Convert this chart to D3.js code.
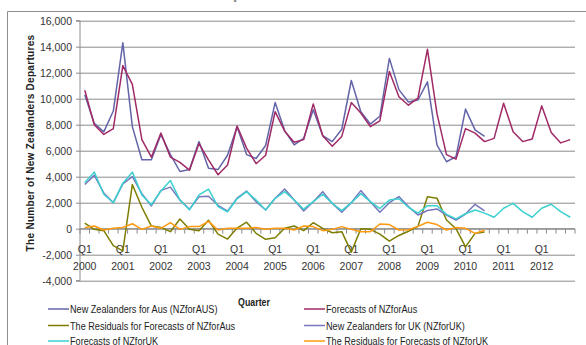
<!DOCTYPE html>
<html>
<head>
<meta charset="utf-8">
<script src="https://cdn.jsdelivr.net/npm/d3@7"></script>
<style>
  body { margin: 0; background: #fff; }
  svg { display: block; }
  text { font-family: "Liberation Sans", Arial, sans-serif; fill: #333; }
</style>
</head>
<body>
<div id="chart"></div>
<script>
const years = ["2000","2001","2002","2003","2004","2005","2006","2007","2008","2009","2010","2011","2012"];
const quarters = ["Q1","Q2","Q3","Q4"];
const yTicks = [-4000,-2000,0,2000,4000,6000,8000,10000,12000,14000,16000];

// quarterly departures, 2000 Q1 onwards (actuals stop at 2010 Q3)
const nzAus = [10300,8100,7450,9050,14300,7850,5300,5300,7250,5700,4400,4550,6700,4650,4550,5650,7850,5700,5400,6400,
  9700,7550,6450,6950,9150,7150,6700,7650,11400,9000,8050,8650,13100,10700,9750,9900,11300,6450,5150,5550,9200,7600,7100];
const fcAus = [10650,8000,7250,7700,12550,11100,6850,5500,7350,5500,5100,4500,6550,5300,4150,4900,7900,6200,5000,5650,
  9000,7500,6650,6850,9600,7150,6350,7100,9700,8900,7850,8300,12100,10150,9500,10050,13800,8850,5700,5350,7700,7350,6700,
  6950,9650,7450,6700,6900,9450,7400,6600,6850];
const resAus = [430,-50,-150,-1300,-1700,3400,1650,200,100,-230,750,-50,-150,650,-420,-800,50,500,-360,-820,
  -700,30,210,-150,460,30,-310,-230,-1800,0,-50,-420,-950,-520,-200,180,2450,2350,670,0,-1400,-360,-250];
const nzUK = [3400,4100,2750,2000,3450,4000,2700,1750,2950,3200,2200,1500,2450,2500,1800,1350,2350,2900,2080,1440,
  2340,3050,2210,1360,2080,2850,1950,1260,2000,2930,2080,1260,2000,2470,1700,1050,1400,1520,1050,670,1130,1880,1370];
const fcUK = [3550,4350,2650,2000,3500,4350,2600,1850,2900,3700,2200,1450,2600,3050,1700,1300,2300,2850,2200,1440,
  2340,2850,2210,1500,2080,2650,1950,1390,2000,2700,2080,1550,2200,2300,1650,1200,1770,1770,1100,760,1150,1440,1200,
  880,1570,1950,1310,880,1570,1880,1310,880];
const resUK = [100,210,-100,30,100,380,-50,210,30,460,-50,160,160,560,-100,30,30,30,100,-50,
  30,30,-100,210,160,-150,-50,160,-50,-230,-230,360,320,-100,-80,180,500,320,-100,100,30,-360,-120];

const seriesNames = ["New Zealanders for Aus (NZforAUS)","Forecasts of NZforAus","The Residuals for Forecasts of NZforAus",
  "New Zealanders for UK (NZforUK)","Forecasts of NZforUK","The Residuals for Forecasts of NZforUK"];
const seriesColors = ["#6464a8","#a02a66","#7d7d00","#7676bc","#3cd0d0","#ff9a10"];

const categories = d3.cross(years, quarters).map(([y, q]) => y + " " + q);
const seriesData = [nzAus, fcAus, resAus, nzUK, fcUK, resUK];

const width = 586, height = 345;
const margin = {top: 21, right: 11, bottom: 65, left: 80};

const svg = d3.select("#chart").append("svg")
    .attr("width", width)
    .attr("height", height);

// chart frame runs off the right and bottom edges
svg.append("path")
    .attr("d", `M7.5,${height} V11.5 H${width}`)
    .attr("fill", "none")
    .attr("stroke", "#8e8e8e");

// title mostly cropped above the frame
svg.append("text")
    .attr("x", 222)
    .attr("y", -1.5)
    .attr("text-anchor", "middle")
    .style("font-size", "15px")
    .style("font-weight", "bold")
    .style("fill", "#888")
    .text("Forecasts of New Zealanders Departures for Australia and UK");

const x = d3.scaleBand()
    .domain(categories)
    .range([margin.left, width - margin.right]);

const y = d3.scaleLinear()
    .domain([-4000, 16000])
    .range([280.7, 20.7]);

const fmt = d => d3.format(",")(d).replace("\u2212", "-");

// gridlines
svg.append("g")
    .attr("transform", `translate(${margin.left},0)`)
    .call(d3.axisLeft(y).tickValues(yTicks).tickSize(-(width - margin.right - margin.left)).tickFormat(""))
    .call(g => g.select(".domain").remove())
    .selectAll("line")
    .attr("stroke", "#8c8c8c");

const yAxis = svg.append("g")
    .attr("transform", `translate(${margin.left},0)`)
    .call(d3.axisLeft(y).tickValues(yTicks).tickSize(4).tickPadding(4).tickFormat(fmt));
yAxis.select(".domain").attr("stroke", "#8c8c8c").attr("d", `M-4,${y(16000)}H0V${y(-4000)}H-4`);
yAxis.selectAll("line").attr("stroke", "#8c8c8c");
yAxis.selectAll("text")
    .style("font-size", "10.5px")
    .style("fill", "#333");

// category axis sits on the zero line
const xAxis = svg.append("g");
xAxis.append("line")
    .attr("x1", x.range()[0])
    .attr("x2", x.range()[1])
    .attr("y1", y(0))
    .attr("y2", y(0))
    .attr("stroke", "#8c8c8c");
xAxis.selectAll(".tick")
    .data(categories.concat([null]))
    .enter()
    .append("line")
    .attr("x1", d => d === null ? x.range()[1] : x(d))
    .attr("x2", d => d === null ? x.range()[1] : x(d))
    .attr("y1", y(0))
    .attr("y2", y(0) + 5)
    .attr("stroke", "#8c8c8c");

const q1s = categories.filter(c => c.endsWith("Q1"));
xAxis.selectAll(".qlab")
    .data(q1s)
    .enter()
    .append("text")
    .attr("x", d => x(d) + x.bandwidth() / 2)
    .attr("y", y(0) + 24)
    .attr("text-anchor", "middle")
    .style("font-size", "10.5px")
    .text("Q1");
xAxis.selectAll(".ylab")
    .data(q1s)
    .enter()
    .append("text")
    .attr("x", d => x(d) + x.bandwidth() / 2)
    .attr("y", y(0) + 41)
    .attr("text-anchor", "middle")
    .style("font-size", "10.5px")
    .text(d => d.slice(0, 4));

// axis titles
svg.append("text")
    .attr("transform", "rotate(-90)")
    .attr("x", -143)
    .attr("y", 34)
    .attr("text-anchor", "middle")
    .style("font-size", "10px")
    .style("font-weight", "bold")
    .style("letter-spacing", "0.3px")
    .style("fill", "#222")
    .text("The Number of New Zealanders Departures");

svg.append("text")
    .attr("transform", "translate(254,306) scale(0.8,1)")
    .attr("text-anchor", "middle")
    .style("font-size", "11px")
    .style("font-weight", "bold")
    .style("fill", "#222")
    .text("Quarter");

// lines
const line = d3.line()
    .defined(d => d != null)
    .x((d, i) => x(categories[i]) + x.bandwidth() / 2)
    .y(d => y(d));

svg.append("g")
    .selectAll("path")
    .data(seriesData)
    .enter()
    .append("path")
    .attr("fill", "none")
    .attr("stroke", (d, i) => seriesColors[i])
    .attr("stroke-width", 1.5)
    .attr("stroke-linejoin", "round")
    .attr("d", d => line(d));

// legend, two columns; text squeezed to match the narrow original face
const legendPos = [[48, 309], [304, 309], [48, 325.5], [304, 325.5], [48, 341], [304, 341]];
const legend = svg.append("g")
    .selectAll("g")
    .data(seriesNames)
    .enter()
    .append("g")
    .attr("transform", (d, i) => `translate(${legendPos[i][0]},${legendPos[i][1]})`);

legend.append("line")
    .attr("x1", 0)
    .attr("x2", 21)
    .attr("stroke", (d, i) => seriesColors[i])
    .attr("stroke-width", 1.5);

legend.append("text")
    .attr("transform", "translate(22,4) scale(0.83,1)")
    .style("font-size", "11px")
    .style("fill", "#222")
    .text(d => d);
</script>
</body>
</html>
